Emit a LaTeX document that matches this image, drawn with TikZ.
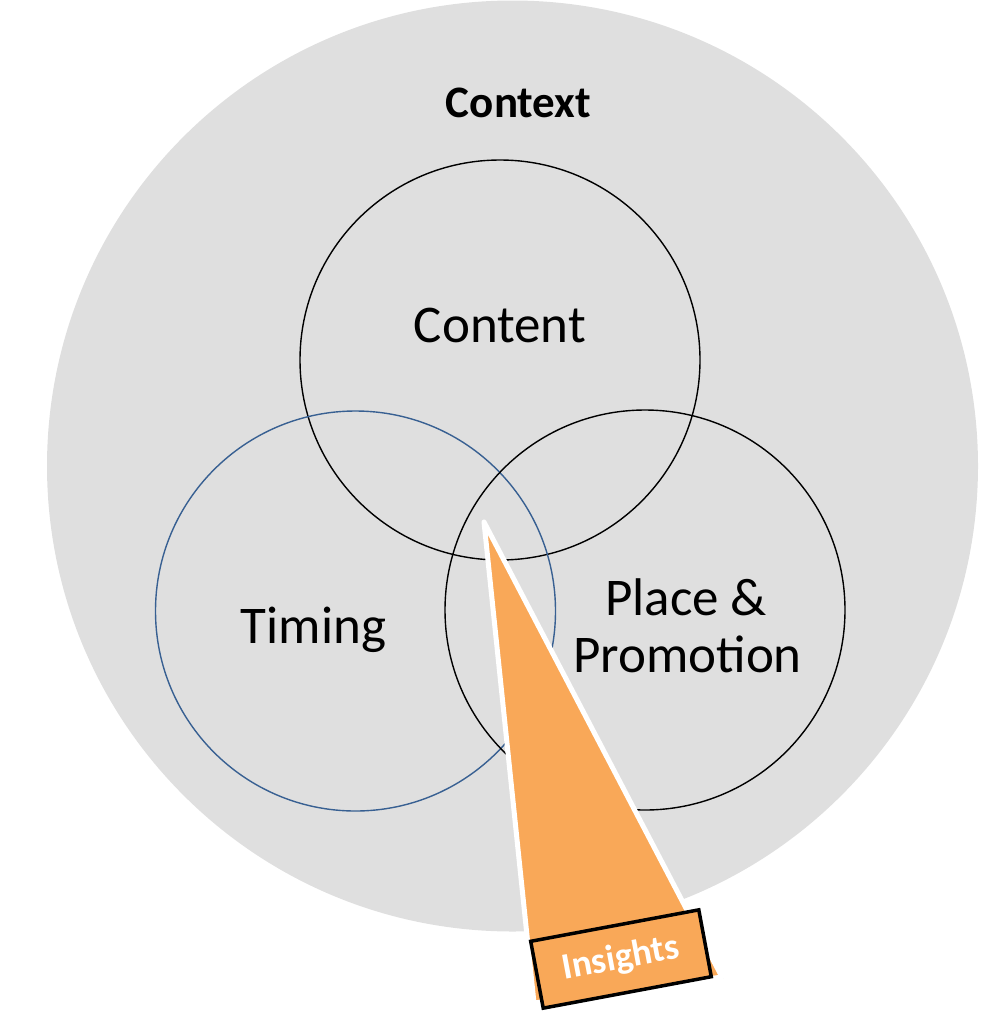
\documentclass[tikz,border=0pt]{standalone}
\usepackage{fontspec}
\setmainfont{Carlito}
\usetikzlibrary{shadows}
\definecolor{ctxgray}{RGB}{223,223,223}
\definecolor{timblue}{RGB}{56,96,146}
\definecolor{insorange}{RGB}{249,168,88}
\tikzset{
  ring/.style={draw=black, line width=1.4pt},
  bigtext/.style={anchor=base, font=\fontsize{53}{60}\selectfont, inner sep=0pt},
}
\begin{document}
\begin{tikzpicture}[x=1pt,y=-1pt]
\useasboundingbox (0,0) rectangle (1001,1015);
\fill[ctxgray] (512.5,466) circle[radius=465.5pt];
\draw[ring] (500,360) circle[radius=200pt];
\draw[ring, draw=timblue] (355.5,611) circle[radius=200pt];
\draw[ring] (645,610) circle[radius=200pt];
\node[anchor=base, inner sep=0pt, font=\fontsize{45}{54}\selectfont\bfseries] (context) at (518.5,117) {Context};
\node[bigtext] (content) at (500,342) {Content};
\node[bigtext] (timing) at (313.5,643) {Timing};
\node[bigtext] (place) at (686,615) {Place \&};
\node[bigtext] (promo) at (687.5,672) {Promotion};
\filldraw[fill=insorange, draw=white, line width=5pt, line join=round,
  drop shadow={opacity=0.25, shadow xshift=1.5pt, shadow yshift=-1.5pt}]
  (484,522) -- (722,977) -- (534,1003) -- cycle;
\node[draw=black, line width=3.5pt, fill=insorange, minimum width=171pt, minimum height=68pt,
  rotate=10.6, inner sep=0pt, text=white, font=\fontsize{37}{44}\selectfont\bfseries]
  (insights) at (621,959) {Insights};
\end{tikzpicture}
\end{document}
